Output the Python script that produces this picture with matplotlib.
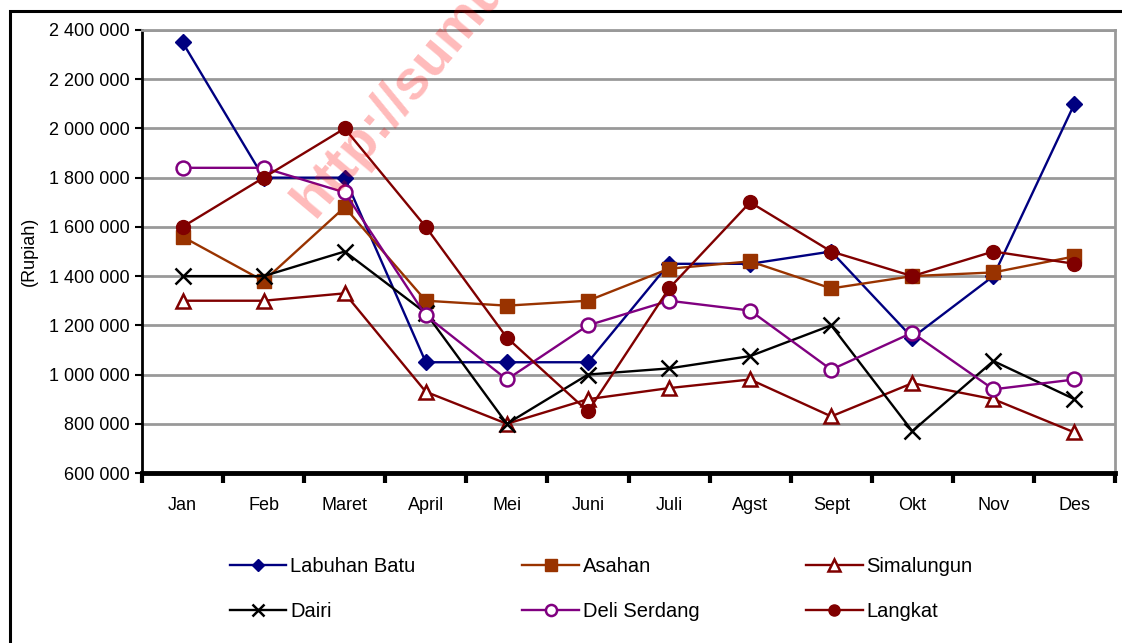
import matplotlib
matplotlib.use('Agg')
import matplotlib.pyplot as plt
from matplotlib.patches import Rectangle
from matplotlib.ticker import FuncFormatter, FixedLocator

plt.rcParams['font.family'] = ['Liberation Sans', 'DejaVu Sans']

months = ['Jan', 'Feb', 'Maret', 'April', 'Mei', 'Juni', 'Juli', 'Agst', 'Sept', 'Okt', 'Nov', 'Des']

labuhan_batu = [2350000, 1800000, 1800000, 1050000, 1050000, 1050000, 1450000, 1450000, 1500000, 1150000, 1400000, 2100000]
asahan = [1560000, 1380000, 1680000, 1300000, 1280000, 1300000, 1430000, 1460000, 1350000, 1400000, 1415000, 1480000]
simalungun = [1300000, 1300000, 1330000, 930000, 800000, 900000, 945000, 980000, 830000, 965000, 900000, 765000]
dairi = [1400000, 1400000, 1500000, 1250000, 800000, 1000000, 1025000, 1075000, 1200000, 770000, 1055000, 900000]
deli_serdang = [1840000, 1840000, 1740000, 1240000, 980000, 1200000, 1300000, 1260000, 1020000, 1170000, 940000, 980000]
langkat = [1600000, 1800000, 2000000, 1600000, 1150000, 850000, 1350000, 1700000, 1500000, 1400000, 1500000, 1450000]

series = [
    ('Labuhan Batu', labuhan_batu, '#000080', dict(marker='D', markersize=8, markerfacecolor='#000080')),
    ('Asahan', asahan, '#993300', dict(marker='s', markersize=10, markerfacecolor='#993300')),
    ('Simalungun', simalungun, '#800000', dict(marker='^', markersize=10, markerfacecolor='white', markeredgewidth=1.8)),
    ('Dairi', dairi, '#000000', dict(marker='x', markersize=11, markeredgewidth=1.8)),
    ('Deli Serdang', deli_serdang, '#800080', dict(marker='o', markersize=10, markerfacecolor='white', markeredgewidth=1.8)),
    ('Langkat', langkat, '#800000', dict(marker='o', markersize=10, markerfacecolor='#800000')),
]

fig = plt.figure(figsize=(11.22, 6.43), dpi=100)
ax = fig.add_axes([142 / 1122, 1 - 473 / 643, (1115 - 142) / 1122, (473 - 30) / 643])

# outer chart border
fig.patches.append(Rectangle((10 / 1122, -0.05), 1.1, 1 - 11 / 643 + 0.05, transform=fig.transFigure,
                             fill=False, edgecolor='black', linewidth=2.2, zorder=0))

x = list(range(len(months)))
handles = []
for name, vals, color, mk in series:
    h, = ax.plot(x, vals, color=color, linewidth=1.7, label=name, zorder=3, **mk)
    handles.append(h)

ax.set_xlim(-0.5, 11.5)
ax.set_ylim(600000, 2400000)
ax.set_yticks(range(600000, 2400001, 200000))
ax.yaxis.set_major_formatter(FuncFormatter(lambda v, p: f'{int(v):,}'.replace(',', ' ')))
ax.grid(axis='y', color='#999999', linewidth=2, zorder=1)
ax.set_axisbelow(True)

ax.set_xticks(x)
ax.set_xticklabels(months)
ax.xaxis.set_minor_locator(FixedLocator([i - 0.5 for i in range(13)]))
ax.tick_params(axis='x', which='major', length=0, pad=17, labelsize=13)
ax.tick_params(axis='x', which='minor', length=7, width=3, direction='out')
ax.tick_params(axis='y', length=5, width=1.5, direction='out', labelsize=13, pad=4)

ax.spines['left'].set_linewidth(2)
ax.spines['bottom'].set_linewidth(3.5)
ax.spines['top'].set_color('#999999')
ax.spines['top'].set_linewidth(2)
ax.spines['right'].set_color('#999999')
ax.spines['right'].set_linewidth(2)

ax.set_ylabel('(Rupiah)', fontsize=13, labelpad=8)

# watermark (cut by the top edge, as in the source image)
fig.text(283 / 1122, 1 - 215 / 643, 'http://sumut', rotation=50, fontsize=40,
         fontweight='bold', color='#ff0000', alpha=0.27, ha='left', va='baseline', zorder=10)

order = [0, 3, 1, 4, 2, 5]
leg = fig.legend([handles[i] for i in order], [series[i][0] for i in order], ncol=3,
                 loc='center', bbox_to_anchor=(0.536, 1 - 589 / 643), frameon=False,
                 fontsize=14.5, handlelength=2.8, handletextpad=0.2, columnspacing=5.3,
                 labelspacing=1.25, markerscale=0.8)

fig.savefig('out.png', dpi=100)
